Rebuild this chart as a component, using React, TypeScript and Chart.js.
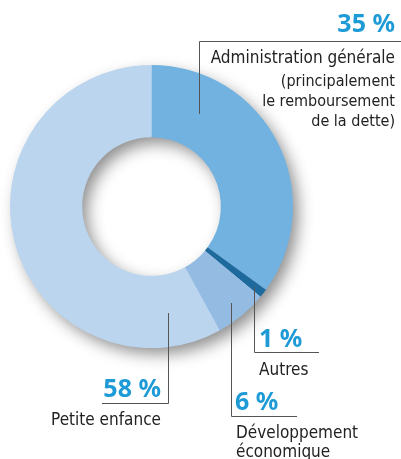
import React, { useEffect, useRef } from "react";
import { Chart, registerables } from "chart.js";

Chart.register(...registerables);

const categories = ["Administration générale", "Autres", "Développement économique", "Petite enfance"];
const values = [35, 1, 6, 58];
const sliceColors = ["#72b2e0", "#1f6a9c", "#94bbe2", "#bcd5ee"];
const percentLabels = ["35 %", "1 %", "6 %", "58 %"];
const detailLines = [
  ["Administration générale", "(principalement", "le remboursement", "de la dette)"],
  ["Autres"],
  ["Développement", "économique"],
  ["Petite enfance"],
];

const TEXT_FONT = '"Liberation Sans Narrow", "DejaVu Sans Condensed", "Roboto", sans-serif';
const PCT_FONT = '"Noto Sans", "DejaVu Sans", sans-serif';
const PCT_COLOR = "#1e9bd7";
const LINE_COLOR = "#555555";

const shadowPlugin = {
  id: "ringShadow",
  beforeDatasetsDraw(chart: any) {
    const meta = chart.getDatasetMeta(0);
    const arc = meta.data[0];
    if (!arc) return;
    const { x, y, outerRadius, innerRadius } = arc.getProps(["x", "y", "outerRadius", "innerRadius"], true);
    const ctx = chart.ctx;
    ctx.save();
    ctx.shadowColor = "rgba(0,0,0,0.45)";
    ctx.shadowBlur = 16;
    ctx.shadowOffsetX = 6;
    ctx.shadowOffsetY = 7;
    ctx.beginPath();
    ctx.arc(x, y, outerRadius - 1, 0, Math.PI * 2);
    ctx.arc(x, y, innerRadius + 1, 0, Math.PI * 2, true);
    ctx.fillStyle = sliceColors[3];
    ctx.fill();
    ctx.restore();
  },
};

const calloutPlugin = {
  id: "callouts",
  afterDraw(chart: any) {
    const ctx = chart.ctx;
    ctx.save();
    ctx.strokeStyle = LINE_COLOR;
    ctx.lineWidth = 1;
    const seg = (pts: number[][]) => {
      ctx.beginPath();
      ctx.moveTo(pts[0][0], pts[0][1]);
      for (let i = 1; i < pts.length; i++) ctx.lineTo(pts[i][0], pts[i][1]);
      ctx.stroke();
    };
    // leaders
    seg([[199.5, 114], [199.5, 41.5], [401, 41.5]]);
    seg([[254.5, 287], [254.5, 352.5], [319, 352.5]]);
    seg([[231.5, 303], [231.5, 416.5], [297, 416.5]]);
    seg([[168.5, 313], [168.5, 403.5], [102, 403.5]]);

    ctx.textBaseline = "alphabetic";
    // percentages
    ctx.fillStyle = PCT_COLOR;
    ctx.font = `bold 25px ${PCT_FONT}`;
    ctx.textAlign = "right";
    ctx.fillText(percentLabels[0], 395, 32);
    ctx.fillText(percentLabels[3], 161, 397);
    ctx.textAlign = "left";
    ctx.fillText(percentLabels[1], 259, 347);
    ctx.fillText(percentLabels[2], 235, 410);

    // detail texts
    ctx.fillStyle = "#222222";
    ctx.textAlign = "right";
    ctx.font = `17px ${TEXT_FONT}`;
    ctx.fillText(detailLines[0][0], 395, 63);
    ctx.font = `16px ${TEXT_FONT}`;
    ctx.fillText(detailLines[0][1], 395, 86);
    ctx.fillText(detailLines[0][2], 395, 106);
    ctx.fillText(detailLines[0][3], 395, 126);
    ctx.font = `17px ${TEXT_FONT}`;
    ctx.fillText(detailLines[3][0], 161, 425);
    ctx.textAlign = "left";
    ctx.fillText(detailLines[1][0], 259, 375);
    ctx.fillText(detailLines[2][0], 236, 438);
    ctx.fillText(detailLines[2][1], 236, 457);
    ctx.restore();
  },
};

export default function App() {
  const ref = useRef<HTMLCanvasElement>(null);
  useEffect(() => {
    document.body.style.margin = "0";
    const chart = new Chart(ref.current!, {
      type: "doughnut",
      data: {
        labels: categories,
        datasets: [
          {
            data: values,
            backgroundColor: sliceColors,
            borderWidth: 0,
          },
        ],
      },
      options: {
        responsive: false,
        animation: false,
        devicePixelRatio: 1,
        cutout: "49%",
        rotation: 0,
        layout: { padding: { left: 10, right: 108, top: 65, bottom: 111 } },
        plugins: {
          legend: { display: false },
          tooltip: { enabled: false },
        },
      },
      plugins: [shadowPlugin, calloutPlugin],
    });
    return () => chart.destroy();
  }, []);
  return (
    <div style={{ position: "absolute", left: 0, top: 0, width: 401, height: 459, background: "#ffffff" }}>
      <canvas ref={ref} width={401} height={459} />
    </div>
  );
}
